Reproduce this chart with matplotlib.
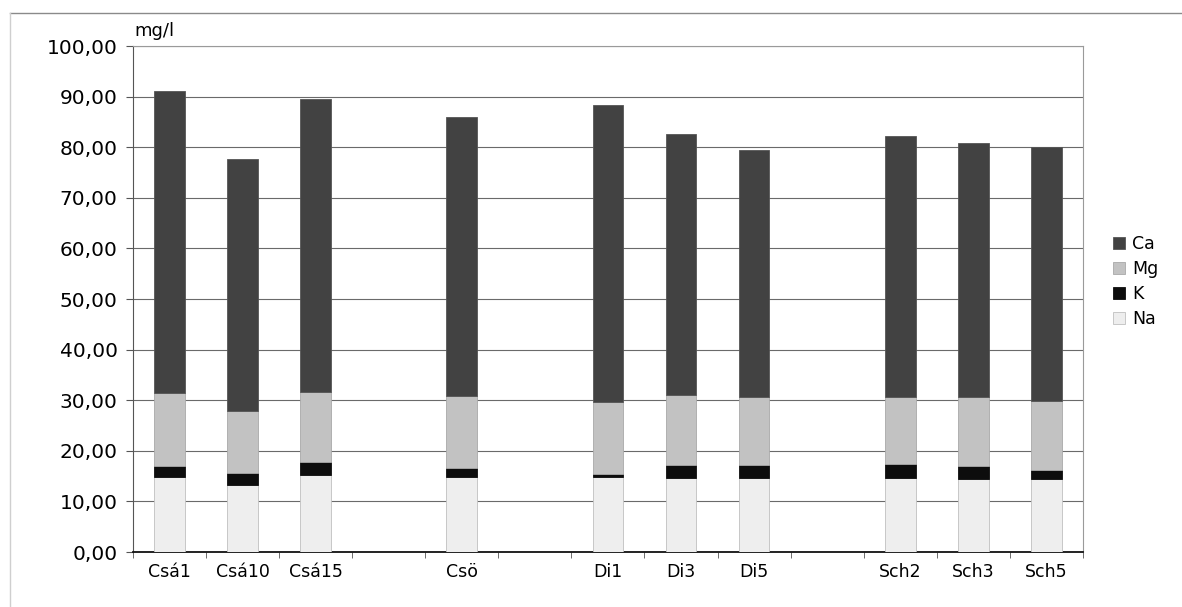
import numpy as np
import matplotlib.pyplot as plt
from matplotlib.lines import Line2D

plt.rcParams['font.family'] = ['DejaVu Sans']

# slots: empty strings are the gaps between site groups
labels = ["Csá1", "Csá10", "Csá15", "", "Csö", "", "Di1", "Di3", "Di5", "", "Sch2", "Sch3", "Sch5"]
na = [14.8, 13.2, 15.2, 0, 14.8, 0, 14.8, 14.6, 14.6, 0, 14.7, 14.5, 14.5]
k = [2.1, 2.5, 2.5, 0, 1.9, 0, 0.7, 2.5, 2.6, 0, 2.6, 2.5, 1.8]
mg = [14.5, 12.2, 14.0, 0, 14.1, 0, 14.2, 13.9, 13.5, 0, 13.4, 13.6, 13.6]
ca = [59.8, 49.8, 57.8, 0, 55.1, 0, 58.6, 51.6, 48.7, 0, 51.5, 50.2, 50.1]

x = np.arange(len(labels))
na = np.array(na)
k = np.array(k)
mg = np.array(mg)
ca = np.array(ca)
keep = na > 0  # skip the empty gap slots

fig = plt.figure(figsize=(11.82, 6.07), dpi=100)
ax = fig.add_axes([0.1125, 0.0906, 0.8037, 0.8336])

w = 0.42
b_na = ax.bar(x[keep], na[keep], w, color="#eeeeee", edgecolor="#c0c0c0", linewidth=0.6, label="Na", zorder=3)
b_k = ax.bar(x[keep], k[keep], w, bottom=na[keep], color="#0d0d0d", edgecolor="#0d0d0d",
             linewidth=0.6, label="K", zorder=3)
b_mg = ax.bar(x[keep], mg[keep], w, bottom=(na + k)[keep], color="#c2c2c2", edgecolor="#a8a8a8",
              linewidth=0.6, label="Mg", zorder=3)
b_ca = ax.bar(x[keep], ca[keep], w, bottom=(na + k + mg)[keep], color="#424242", edgecolor="#555555",
              linewidth=0.6, label="Ca", zorder=3)

ax.set_xlim(-0.5, len(labels) - 0.5)
ax.set_ylim(0, 100)
ax.set_yticks(np.arange(0, 101, 10))
ax.set_yticklabels([f"{v:.2f}".replace(".", ",") for v in range(0, 101, 10)], fontsize=14.5)
ax.set_xticks(x)
ax.set_xticklabels(labels, fontsize=12.5)
ax.tick_params(axis="x", length=0, pad=8)
ax.set_xticks(np.arange(-0.5, len(labels), 1), minor=True)
ax.tick_params(axis="x", which="minor", length=4, color="#555555")
ax.tick_params(axis="y", length=5, color="#555555", pad=6)

ax.grid(axis="y", color="#6a6a6a", linewidth=0.8, zorder=0)
for s in ["top", "right"]:
    ax.spines[s].set_color("#9a9a9a")
    ax.spines[s].set_linewidth(0.8)
ax.spines["left"].set_color("#555555")
ax.spines["bottom"].set_color("#111111")
ax.spines["bottom"].set_linewidth(1.3)

ax.text(0.002, 1.012, "mg/l", transform=ax.transAxes, fontsize=13, ha="left", va="bottom")

handles = [b_ca, b_mg, b_k, b_na]
ax.legend(handles, ["Ca", "Mg", "K", "Na"], loc="center left", bbox_to_anchor=(1.015, 0.535),
          frameon=False, fontsize=12.5, handlelength=0.7, handleheight=0.7,
          labelspacing=0.4, handletextpad=0.4)

# outer chart border lines
fig.add_artist(Line2D([0.0085, 1.0], [0.979, 0.979], transform=fig.transFigure, color="#8a8a8a", linewidth=1))
fig.add_artist(Line2D([0.0085, 0.0085], [0.0, 0.979], transform=fig.transFigure, color="#cfcfcf", linewidth=1))

fig.savefig("out.png", dpi=100)
